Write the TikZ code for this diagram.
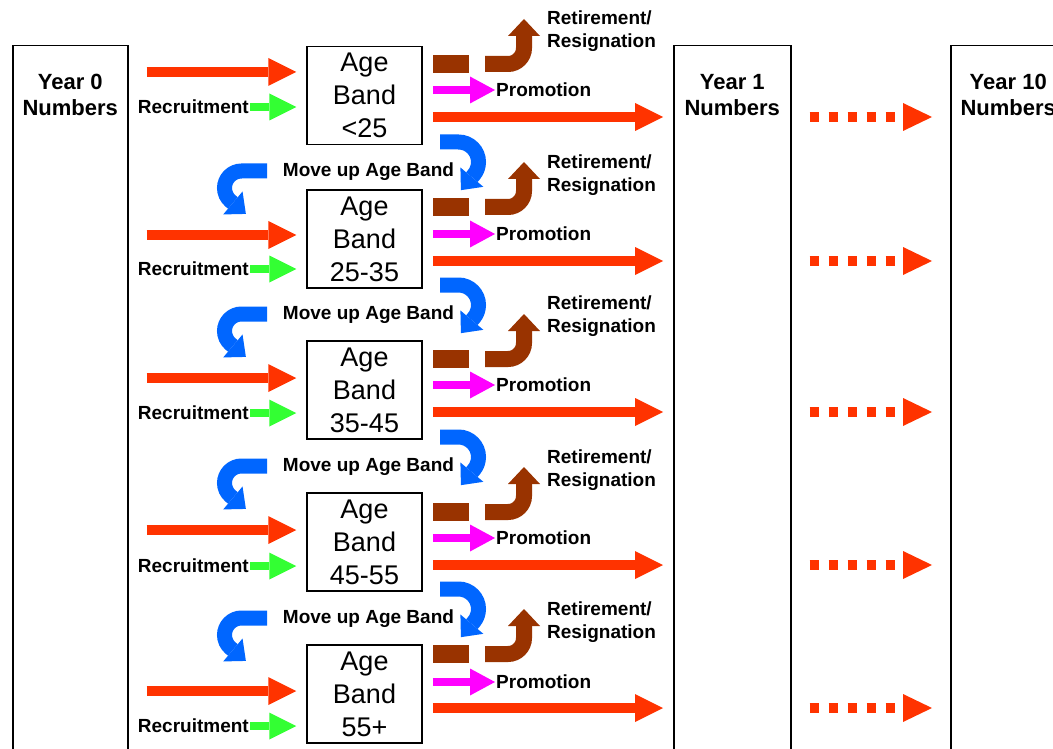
\documentclass[tikz,border=0pt]{standalone}
\usepackage{fontspec}
\setmainfont{Liberation Sans}
\usepackage{xcolor}
\usetikzlibrary{arrows.meta,positioning,calc}
\definecolor{flowRed}{HTML}{FF3300}
\definecolor{flowGreen}{HTML}{33FF33}
\definecolor{flowPink}{HTML}{FF00FF}
\definecolor{flowBrown}{HTML}{993300}
\definecolor{flowBlue}{HTML}{0066FF}

\begin{document}
\begin{tikzpicture}[x=1pt,y=-1pt,
  yearbox/.style={draw,line width=1.5pt,anchor=north west,minimum width=115pt,minimum height=720pt},
  yeartxt/.style={font=\fontsize{22}{26}\selectfont\bfseries,align=center},
  bandbox/.style={draw,line width=1.5pt,minimum width=115pt,minimum height=98pt,align=center,inner sep=0pt,
    font=\fontsize{27}{33}\selectfont},
  lbl/.style={font=\fontsize{19}{23}\selectfont\bfseries,inner sep=1pt},
  fatarr/.style={flowRed,line width=10pt,-{Triangle[length=28pt,width=28pt,line width=0pt]}},
  greenarr/.style={flowGreen,line width=8pt,-{Triangle[length=27pt,width=27pt,line width=0pt]}},
  pinkarr/.style={flowPink,line width=8pt,-{Triangle[length=25pt,width=27pt,line width=0pt]}},
  brownarr/.style={flowBrown,line width=16pt,-{Triangle[length=17pt,width=32pt,line width=0pt]}},
  bluearr/.style={flowBlue,line width=15pt,-{Triangle[length=17pt,width=30pt,line width=0pt]}},
  dotarr/.style={flowRed,line width=10pt,dash pattern=on 9pt off 10pt,-{Triangle[length=29pt,width=28pt,line width=0pt]}}]
\fill[white] (0,0) rectangle (1053,749);
\useasboundingbox (0,0) rectangle (1053,749);
% the three year columns
\node[yearbox] (year0) at (12,45) {};
\node[yearbox,minimum width=117pt] (year1) at (673,45) {};
\node[yearbox] (year10) at (950,45) {};
\node[yeartxt] (y0txt) at ([yshift=-50pt]year0.north) {Year 0\\Numbers};
\node[yeartxt] (y1txt) at ([yshift=-50pt]year1.north) {Year 1\\Numbers};
\node[yeartxt] (y10txt) at ([yshift=-50pt]year10.north) {Year 10\\Numbers};
% one row per age band
\foreach \n/\txt/\yc/\yi/\yr/\yb/\yt/\yp/\yl in {
  1/{<25}/95.5/72/107/64/31/90/117,
  2/25-35/239/235/269/207/175/234/261,
  3/35-45/390/378/413/359/316/385/412,
  4/45-55/542/530/566/512/470/538/565,
  5/55+/694/691/726/654/622/682/708}
{
  \node[bandbox] (band\n) at (364.5,\yc) {Age\\Band\\\txt};
  \draw[fatarr,shorten <=18pt,shorten >=10pt] (year0.east |- 0,\yi) -- (band\n.west |- 0,\yi);
  \node[lbl,anchor=east] (rec\n) at (250,\yr) {Recruitment};
  \draw[greenarr,shorten >=10pt] (rec\n.east) -- (band\n.west |- rec\n.east);
  % leavers
  \fill[flowBrown] ($(band\n.east |- 0,\yb)+(10,-9)$) rectangle +(36,18);
  \draw[brownarr] (485,\yb) -- (508,\yb) arc[start angle=90,end angle=0,radius=16] -- (524,\yb-45);
  \node[lbl,anchor=west,align=left] (ret\n) at (546,\yt) {Retirement/\\Resignation};
  \node[lbl,anchor=west] (pro\n) at (495,\yp) {Promotion};
  \draw[pinkarr,shorten <=10pt] (band\n.east |- pro\n.west) -- (pro\n.west);
  % stayers
  \draw[fatarr,shorten <=10pt,shorten >=10pt] (band\n.east |- 0,\yl) -- (year1.west |- 0,\yl);
  \draw[dotarr,shorten <=18pt,shorten >=18pt] (year1.east |- 0,\yl) -- (year10.west |- 0,\yl);
}
% moving up between bands
\foreach \k/\t in {1/172,2/315,3/467,4/619}
{
  \node[lbl] (up\k) at (368.5,\t) {Move up Age Band};
  \draw[bluearr] (440,\t-30) -- (458.5,\t-30) arc[start angle=-90,end angle=40,radius=20] -- ++(-12.9,15.3);
  \draw[bluearr] (267,\t-1) -- (241.5,\t-1) arc[start angle=-90,end angle=-230,radius=17] -- ++(15.3,12.9);
}
\end{tikzpicture}
\end{document}
